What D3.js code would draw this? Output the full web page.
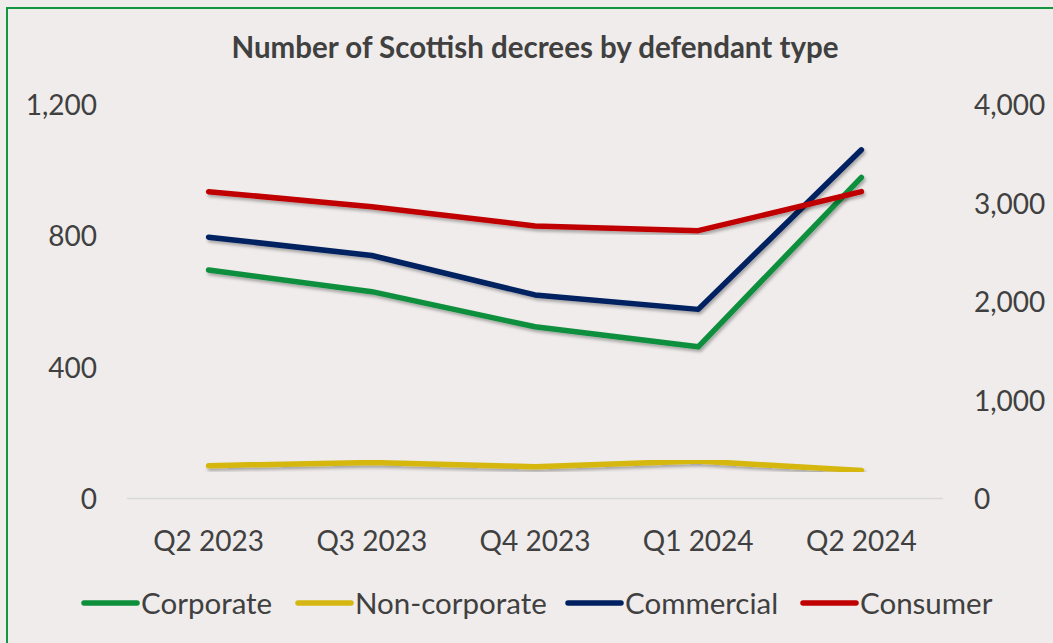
<!DOCTYPE html>
<meta charset="utf-8">

<!-- Load d3.js -->
<script src="https://d3js.org/d3.v7.min.js"></script>

<style>
  body { margin: 0; background: #efeceb; }
  text { font-family: Lato, "Open Sans", sans-serif; fill: #404040; }
</style>

<!-- Create a div where the graph will take place -->
<div id="decrees"></div>

<script>

// data
var quarters = ["Q2 2023", "Q3 2023", "Q4 2023", "Q1 2024", "Q2 2024"];
var corporate = [696, 630, 523, 462, 978];
var nonCorporate = [100, 110, 97, 114, 85];
var commercial = [796, 740, 620, 576, 1062];
var consumer = [3115, 2962, 2767, 2719, 3115];   // right axis
var leftTicks = [0, 400, 800, 1200];
var rightTicks = [0, 1000, 2000, 3000, 4000];

var seriesList = [
  { name: "Corporate", values: corporate, color: "#0d8f3c", axis: "left" },
  { name: "Non-corporate", values: nonCorporate, color: "#d5b711", axis: "left" },
  { name: "Commercial", values: commercial, color: "#002060", axis: "left" },
  { name: "Consumer", values: consumer, color: "#c00000", axis: "right" }
];

var W = 1053, H = 643;
var plot = { left: 127, right: 943, top: 104.5, bottom: 498.5 };

var svg = d3.select("#decrees")
  .append("svg")
    .attr("width", W)
    .attr("height", H);

// drop shadow under the lines
var defs = svg.append("defs");
defs.append("filter")
    .attr("id", "shadow")
    .attr("x", "-10%").attr("y", "-10%")
    .attr("width", "120%").attr("height", "120%")
  .append("feDropShadow")
    .attr("dx", 1.5).attr("dy", 2.5)
    .attr("stdDeviation", 1.6)
    .attr("flood-color", "#000")
    .attr("flood-opacity", 0.3);

// frame (only top and left edges visible in the crop)
svg.append("path")
  .attr("d", "M7,643 V8 H1053")
  .attr("fill", "none")
  .attr("stroke", "#12963f")
  .attr("stroke-width", 2);

// title
svg.append("text")
  .attr("x", 535)
  .attr("y", 58)
  .attr("text-anchor", "middle")
  .style("font-weight", "bold")
  .style("font-size", "29.5px")
  .text("Number of Scottish decrees by defendant type");

// scales
var x = d3.scaleBand()
  .domain(quarters)
  .range([plot.left, plot.right]);

var yL = d3.scaleLinear()
  .domain([0, 1200])
  .range([plot.bottom, plot.top]);

var yR = d3.scaleLinear()
  .domain([0, 4000])
  .range([plot.bottom, plot.top]);

// baseline
svg.append("line")
  .attr("x1", plot.left).attr("x2", plot.right)
  .attr("y1", yL(0)).attr("y2", yL(0))
  .attr("stroke", "#d9d9d9")
  .attr("stroke-width", 1.5);

// left axis
var leftAxis = svg.append("g")
  .attr("transform", "translate(97,0)")
  .call(d3.axisLeft(yL).tickValues(leftTicks).tickSize(0).tickPadding(0).tickFormat(d3.format(",")));

// right axis
var rightAxis = svg.append("g")
  .attr("transform", "translate(974,0)")
  .call(d3.axisRight(yR).tickValues(rightTicks).tickSize(0).tickPadding(0).tickFormat(d3.format(",")));

// bottom axis
var bottomAxis = svg.append("g")
  .attr("transform", "translate(0," + (plot.bottom + 32) + ")")
  .call(d3.axisBottom(x).tickSize(0).tickPadding(0));

svg.selectAll(".domain").remove();
svg.selectAll(".tick text")
  .style("font-size", "28px")
  .attr("fill", "#404040");
leftAxis.selectAll(".tick text").attr("dy", "0.36em");
rightAxis.selectAll(".tick text").attr("dy", "0.36em");
bottomAxis.selectAll(".tick text").attr("dy", "0.72em");

// lines
var lineL = d3.line()
  .x(function(d, i) { return x(quarters[i]) + x.bandwidth() / 2; })
  .y(function(d) { return yL(d); });

var lineR = d3.line()
  .x(function(d, i) { return x(quarters[i]) + x.bandwidth() / 2; })
  .y(function(d) { return yR(d); });

svg.selectAll(".series")
  .data(seriesList)
  .enter()
  .append("path")
    .attr("class", "series")
    .attr("fill", "none")
    .attr("stroke", function(d) { return d.color; })
    .attr("stroke-width", 5.5)
    .attr("stroke-linecap", "round")
    .attr("stroke-linejoin", "round")
    .attr("filter", "url(#shadow)")
    .attr("d", function(d) { return d.axis === "left" ? lineL(d.values) : lineR(d.values); });

// legend
var legendX = [84, 298, 568, 803];
var legend = svg.selectAll(".legend")
  .data(seriesList)
  .enter()
  .append("g")
    .attr("class", "legend")
    .attr("transform", function(d, i) { return "translate(" + legendX[i] + ",603)"; });

legend.append("line")
  .attr("x1", 0).attr("x2", 53)
  .attr("stroke", function(d) { return d.color; })
  .attr("stroke-width", 5.5)
  .attr("stroke-linecap", "round");

legend.append("text")
  .attr("x", 57)
  .attr("dy", "0.36em")
  .style("font-size", "29.5px")
  .text(function(d) { return d.name; });

</script>
